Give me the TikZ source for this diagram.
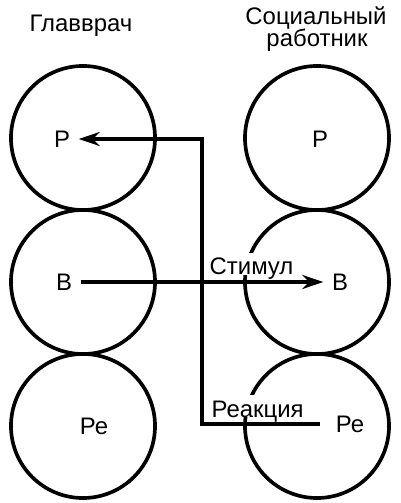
\documentclass[tikz,border=0pt]{standalone}
\usepackage{fontspec}
\setmainfont{Liberation Sans}
\usetikzlibrary{arrows.meta}

\begin{document}
\begin{tikzpicture}
[x=0.025cm, y=-0.025cm,%
  roleCircle/.style={circle, draw, line width=2.6pt, minimum size=3.6cm, inner sep=0pt},%
  roleText/.style={font=\fontsize{17}{20}\selectfont},%
  roleLetter/.style={roleText, inner sep=6pt},%
  flowLabel/.style={roleText, fill=white, inner xsep=1pt, inner ysep=0pt,
    text height=16pt, text depth=0pt, anchor=base west},%
  flowLine/.style={line width=2.8pt},%
  arrowLine/.style={-{Stealth[length=15pt,width=10pt,inset=5pt]}}]
\useasboundingbox (0,0) rectangle (400,503);
%% titles
\node[roleText, anchor=base] (glTitle) at (81,32) {Главврач};
\node[roleText, anchor=base] (soTitleA) at (316,25) {Социальный};
\node[roleText, anchor=base] (soTitleB) at (317,47) {работник};
%% the two columns of circles
\foreach \role/\y in {P/138, V/282, Re/426}
{
  \node[roleCircle] (gl\role) at (83,\y) {};
  \node[roleCircle] (so\role) at (317,\y) {};
}
\node[flowLabel] (stimul) at (208,275) {Стимул};
\node[flowLabel] (reakcia) at (210,417) {Реакция};
\node[roleLetter] (glPL) at (62,139) {Р};
\node[roleLetter] (glVL) at (64,282) {В};
\node[roleLetter] (glReL) at (94,426) {Ре};
\node[roleLetter] (soPL) at (320,139) {Р};
\node[roleLetter] (soVL) at (340,282) {В};
\node[roleLetter] (soReL) at (350,424) {Ре};
%% stimulus and reaction
\coordinate (bend) at (202,139);
\draw[flowLine, arrowLine] (glVL.east) -- (soVL.west);
\draw[flowLine, arrowLine] ([xshift=-5pt]soReL.west) -| (bend) -- (glPL.east);
\end{tikzpicture}
\end{document}
